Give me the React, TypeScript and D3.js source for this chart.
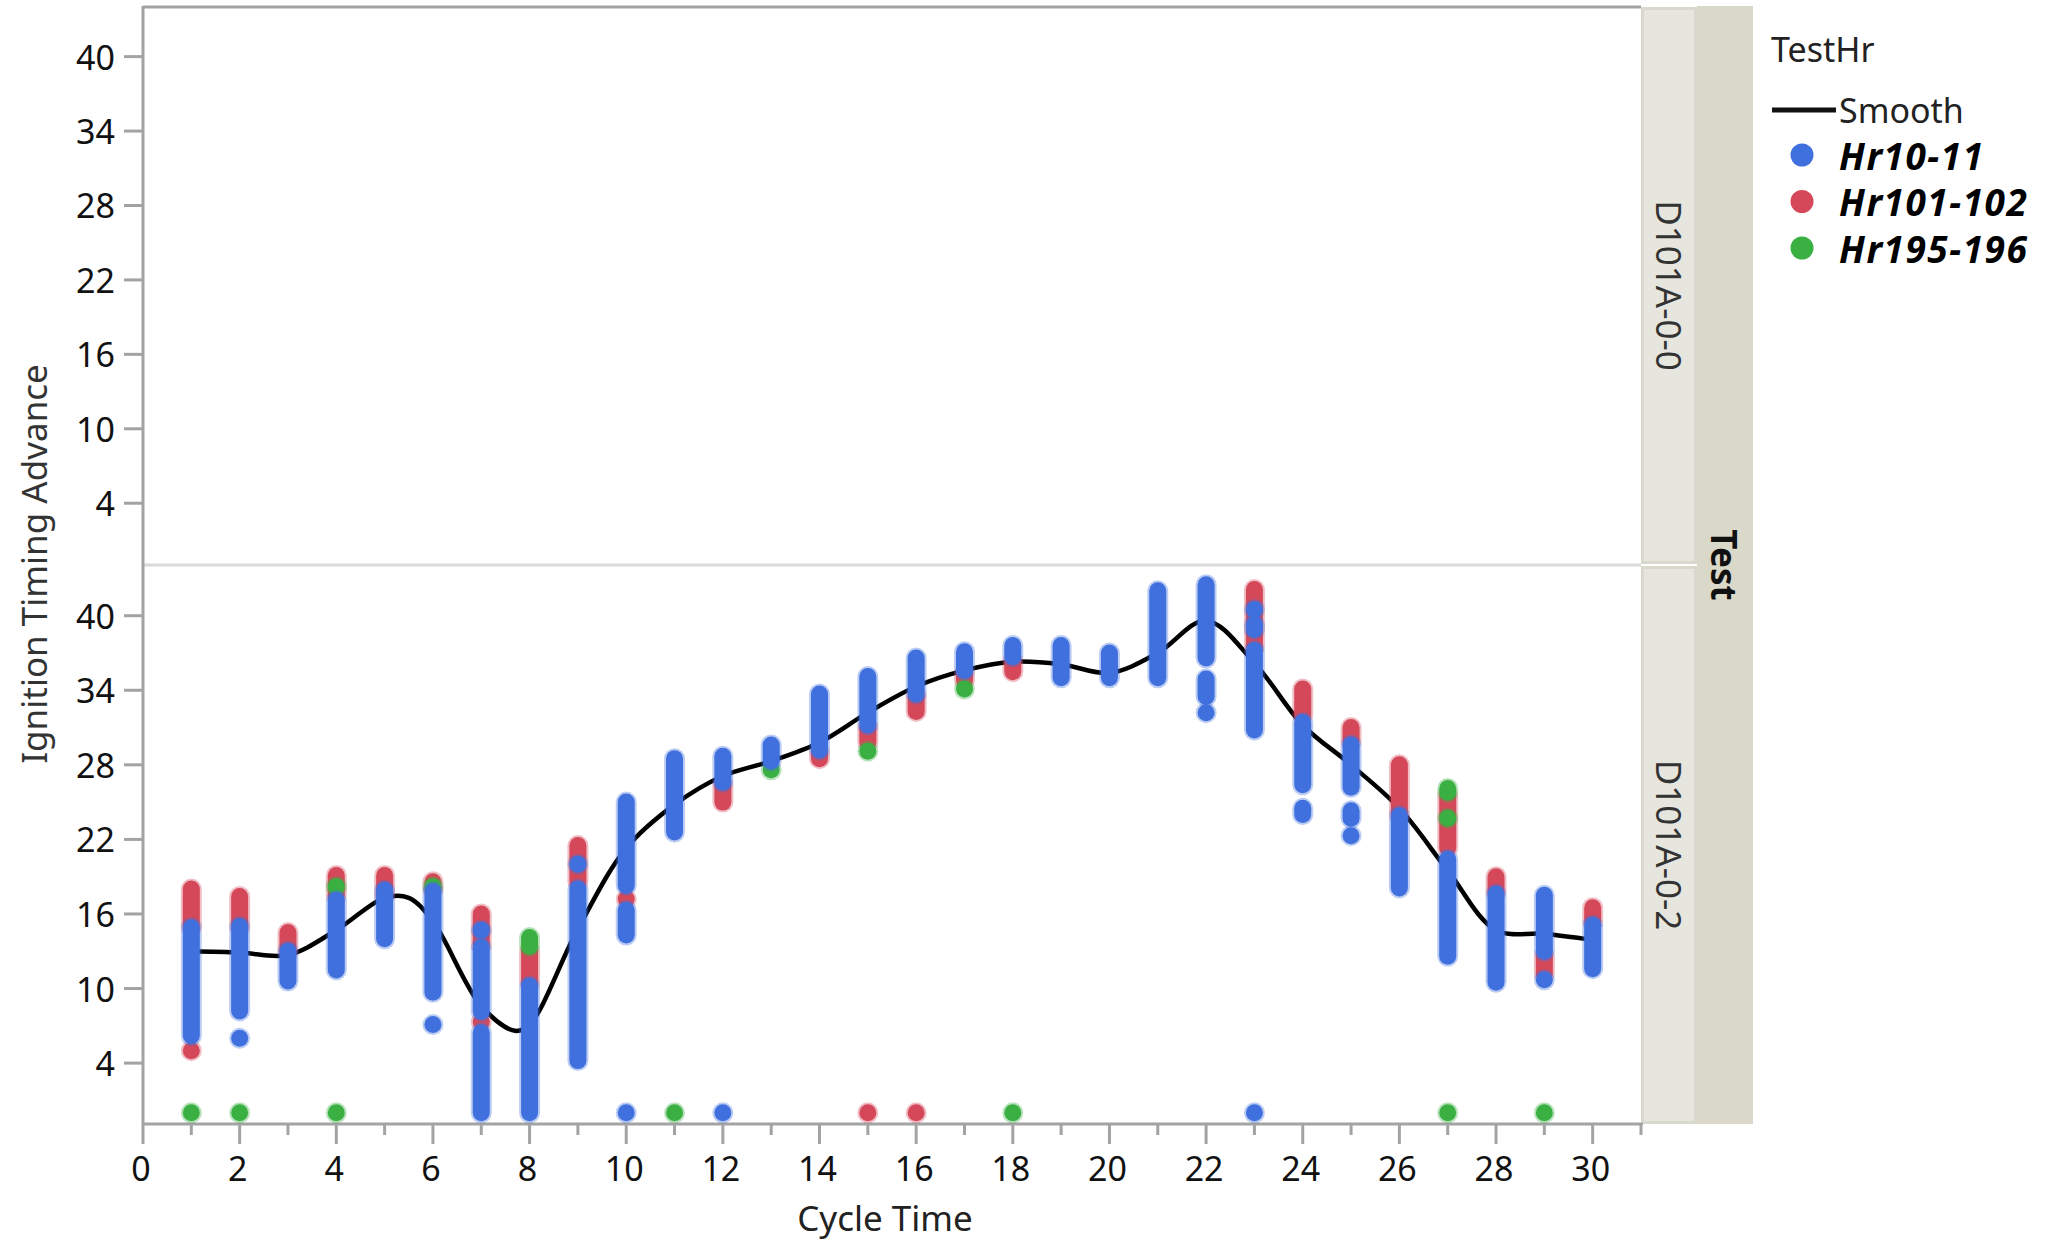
import React from 'react';
import * as d3 from 'd3';

// ---------- data ----------
const panelLabels = ['D101A-0-0', 'D101A-0-2'];
const stripTitle = 'Test';
const legendTitle = 'TestHr';
const seriesNames = ['Hr10-11', 'Hr101-102', 'Hr195-196'];
const seriesColors = ['#4070DD', '#D4485A', '#3AB043'];

const yTickValues = [4, 10, 16, 22, 28, 34, 40];
const xMajorTicks = [0, 2, 4, 6, 8, 10, 12, 14, 16, 18, 20, 22, 24, 26, 28, 30];
const xMinorTicks = [1, 3, 5, 7, 9, 11, 13, 15, 17, 19, 21, 23, 25, 27, 29, 31];

// [cycle time, low value, high value] — a run of stacked points in one column
const blueRuns: [number, number, number][] = [
  [1, 6.2, 14.9],
  [2, 8.2, 15], [2, 6, 6],
  [3, 10.6, 13],
  [4, 11.5, 17.1],
  [5, 14, 17.9],
  [6, 9.7, 17.8], [6, 7.1, 7.1],
  [7, 0, 6.45], [7, 8.15, 13.3], [7, 14.7, 14.7],
  [8, 0, 10.2],
  [9, 4.2, 18.0], [9, 20.0, 20.0],
  [10, 14.3, 16.3], [10, 18.3, 25], [10, 0, 0],
  [11, 22.6, 28.5],
  [12, 26.6, 28.7], [12, 0, 0],
  [13, 28.3, 29.6],
  [14, 29.2, 33.7],
  [15, 31.2, 35.1],
  [16, 33.7, 36.6],
  [17, 35.6, 37.1],
  [18, 36.7, 37.6],
  [19, 35.0, 37.6],
  [20, 35.0, 37.0],
  [21, 35.0, 42.0],
  [22, 36.6, 42.5], [22, 33.5, 34.9], [22, 32.2, 32.2],
  [23, 30.8, 37.2], [23, 38.9, 39.3], [23, 40.5, 40.5], [23, 0, 0],
  [24, 26.4, 31.4], [24, 24.0, 24.5],
  [25, 26.2, 29.6], [25, 23.7, 24.3], [25, 22.3, 22.3],
  [26, 18.1, 23.9],
  [27, 12.6, 20.4],
  [28, 10.5, 17.6],
  [29, 13, 17.5], [29, 10.7, 10.7],
  [30, 11.6, 15.1],
];

const redRuns: [number, number, number][] = [
  [1, 15, 18], [1, 5, 5],
  [2, 15, 17.4],
  [3, 13, 14.5],
  [4, 17.5, 19.1],
  [5, 17.5, 19.1],
  [6, 18, 18.6],
  [7, 13.5, 16.0], [7, 7.3, 7.3],
  [8, 10.5, 13],
  [9, 18.6, 21.5],
  [10, 17.2, 17.2],
  [12, 25, 26.4],
  [14, 28.5, 28.9],
  [15, 29.8, 31], [15, 0, 0],
  [16, 32.3, 33.5], [16, 0, 0],
  [17, 34.8, 35.3],
  [18, 35.5, 36.3],
  [23, 37.5, 42.1],
  [24, 32, 34.1],
  [25, 29.9, 31],
  [26, 24, 28],
  [27, 21.3, 25.5],
  [28, 17.8, 19],
  [29, 11.2, 12.6],
  [30, 15.4, 16.5],
];

const greenRuns: [number, number, number][] = [
  [1, 0, 0], [2, 0, 0], [4, 0, 0], [4, 18.2, 18.2], [6, 18.2, 18.2],
  [8, 13.4, 14.1], [11, 0, 0], [13, 27.6, 27.6], [15, 29.1, 29.1],
  [17, 34.1, 34.1], [18, 0, 0], [27, 25.8, 26.1], [27, 23.7, 23.7],
  [27, 0, 0], [29, 0, 0],
];

const smoothX = [1, 2, 3, 4, 5, 5.5, 6, 7, 7.7, 8, 9, 10, 11, 12, 13, 14, 15, 16, 17, 18, 19, 20, 21, 22, 23, 24, 25, 26, 27, 28, 29, 30];
const smoothY = [13, 12.9, 12.7, 14.7, 17.3, 17.3, 15.4, 8.6, 6.6, 7.1, 14.8, 21.3, 24.8, 27.1, 28.3, 29.8, 32.2, 34.3, 35.6, 36.3, 36.1, 35.4, 37, 39.6, 36.2, 31.2, 28, 24.5, 19.5, 14.7, 14.4, 13.9];

// ---------- layout ----------
const W = 2049;
const H = 1246;
const plotL = 143;
const plotR = 1641;
const panelTops = [7, 566];
const panelBots = [564, 1124];
const FONT = "'Noto Sans', 'Open Sans', 'DejaVu Sans', sans-serif";
const AXIS = '#a3a3a3';

export default function App() {
  const x = d3.scaleLinear().domain([0, 31]).range([plotL, plotR]);
  const yScales = panelTops.map((t, i) =>
    d3.scaleLinear().domain([-0.9, 44]).range([panelBots[i], t])
  );
  const y2 = yScales[1];

  const line = d3
    .line<number>()
    .x((_, i) => x(smoothX[i]))
    .y((d) => y2(d))
    .curve(d3.curveCatmullRom.alpha(0.5));

  const runsBySeries = [redRuns, greenRuns, blueRuns];
  const colorsBySeries = [seriesColors[1], seriesColors[2], seriesColors[0]];

  return (
    <svg
      width={W}
      height={H}
      style={{ position: 'absolute', left: 0, top: 0, background: '#fff' }}
      fontFamily={FONT}
    >
      {/* strips */}
      <rect x={1697} y={6} width={56} height={1118} fill="#DAD8C9" />
      {panelTops.map((t, i) => (
        <g key={'strip' + i}>
          <rect x={1641} y={t} width={56} height={panelBots[i] - t} fill="#D8D8CC" />
          <rect x={1644} y={t + 3} width={50} height={panelBots[i] - t - 6} fill="#E6E6DF" />
          <text
            transform={`translate(${1669},${(t + panelBots[i]) / 2}) rotate(90)`}
            textAnchor="middle"
            dominantBaseline="central"
            fontSize={35}
            fill="#333"
          >
            {panelLabels[i]}
          </text>
        </g>
      ))}
      <text
        transform={`translate(${1724},${565}) rotate(90)`}
        textAnchor="middle"
        dominantBaseline="central"
        fontSize={35}
        fontWeight="bold"
        fill="#111"
      >
        {stripTitle}
      </text>

      {/* frame lines */}
      <line x1={plotL} x2={plotR} y1={7} y2={7} stroke={AXIS} strokeWidth={3} />
      <line x1={plotL} x2={plotR} y1={565} y2={565} stroke="#d9d9d9" strokeWidth={3} />

      {/* y axes */}
      {yScales.map((ys, pi) => (
        <g key={'yax' + pi}>
          {yTickValues.map((v) => (
            <g key={v}>
              <line x1={124} x2={plotL} y1={ys(v)} y2={ys(v)} stroke={AXIS} strokeWidth={3} />
              <text
                x={115}
                y={ys(v)}
                textAnchor="end"
                dominantBaseline="central"
                fontSize={34}
                fill="#111"
              >
                {v}
              </text>
            </g>
          ))}
        </g>
      ))}
      <line x1={plotL} x2={plotL} y1={6} y2={1125} stroke={AXIS} strokeWidth={3} />

      {/* x axis */}
      <line x1={plotL - 1} x2={plotR + 2} y1={1124} y2={1124} stroke={AXIS} strokeWidth={3} />
      {xMajorTicks.map((v) => (
        <g key={'xm' + v}>
          <line x1={x(v)} x2={x(v)} y1={1124} y2={1144} stroke={AXIS} strokeWidth={3} />
          <text x={x(v) - 2} y={1181} textAnchor="middle" fontSize={34} fill="#111">
            {v}
          </text>
        </g>
      ))}
      {xMinorTicks.map((v) => (
        <line key={'xn' + v} x1={x(v)} x2={x(v)} y1={1124} y2={1135} stroke={AXIS} strokeWidth={3} />
      ))}

      {/* axis titles */}
      <text x={885} y={1231} textAnchor="middle" fontSize={35} fill="#222">
        Cycle Time
      </text>
      <text
        transform={`translate(${47},${564}) rotate(-90)`}
        textAnchor="middle"
        fontSize={35}
        fill="#333"
      >
        Ignition Timing Advance
      </text>

      {/* smooth curve */}
      <path d={line(smoothY) || ''} fill="none" stroke="#000" strokeWidth={4.5} />

      {/* points */}
      {runsBySeries.map((runs, si) => (
        <g key={'s' + si}>
          {runs.map(([cx, lo, hi], k) => (
            <g key={k}>
              <line
                x1={x(cx)}
                x2={x(cx)}
                y1={y2(lo)}
                y2={y2(hi)}
                stroke={colorsBySeries[si]}
                strokeOpacity={0.35}
                strokeWidth={21}
                strokeLinecap="round"
              />
              <line
                x1={x(cx)}
                x2={x(cx)}
                y1={y2(lo)}
                y2={y2(hi)}
                stroke={colorsBySeries[si]}
                strokeWidth={17}
                strokeLinecap="round"
              />
            </g>
          ))}
        </g>
      ))}

      {/* legend */}
      <text x={1771} y={62} fontSize={34} fill="#222">
        {legendTitle}
      </text>
      <line x1={1772} x2={1836} y1={110} y2={110} stroke="#111" strokeWidth={5} />
      <text x={1839} y={110} dominantBaseline="central" fontSize={34} fill="#222">
        Smooth
      </text>
      {seriesNames.map((name, i) => (
        <g key={name}>
          <circle cx={1802} cy={155 + i * 46.5} r={11.5} fill={seriesColors[i]} />
          <text
            x={1839}
            y={155 + i * 46.5}
            dominantBaseline="central"
            fontSize={37}
            fontWeight="bold"
            fontStyle="italic"
            letterSpacing={1.5}
            fill="#000"
          >
            {name}
          </text>
        </g>
      ))}
    </svg>
  );
}
